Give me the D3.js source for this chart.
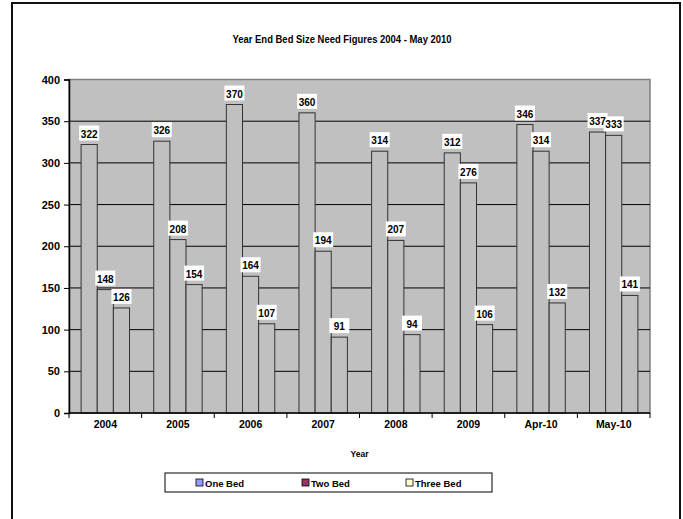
<!DOCTYPE html>
<html>
<head>
<meta charset="utf-8">
<script src="https://cdn.jsdelivr.net/npm/d3@7"></script>
<style>
  body { margin: 0; background: #fff; }
  svg { display: block; font-family: "Liberation Sans", Arial, sans-serif; }
</style>
</head>
<body>
<div id="chart"></div>
<script>
// Data
const categories = ["2004", "2005", "2006", "2007", "2008", "2009", "Apr-10", "May-10"];
const seriesNames = ["One Bed", "Two Bed", "Three Bed"];
const oneBed = [322, 326, 370, 360, 314, 312, 346, 337];
const twoBed = [148, 208, 164, 194, 207, 276, 314, 333];
const threeBed = [126, 154, 107, 91, 94, 106, 132, 141];
const yTicks = [0, 50, 100, 150, 200, 250, 300, 350, 400];
const legendColors = ["#9999ff", "#993366", "#ffffcc"];

const width = 683, height = 519;
const plot = { left: 69, right: 650, top: 79.5, bottom: 413 };

const svg = d3.select("#chart").append("svg")
  .attr("width", width)
  .attr("height", height);

// outer frame
svg.append("rect")
  .attr("x", 12).attr("y", 3)
  .attr("width", 668).attr("height", 540)
  .attr("fill", "#fff")
  .attr("stroke", "#111")
  .attr("stroke-width", 2);

// title (narrow bold look)
svg.append("text")
  .attr("transform", "translate(342,43) scale(0.86,1)")
  .attr("text-anchor", "middle")
  .style("font-size", "11px")
  .style("font-weight", "bold")
  .text("Year End Bed Size Need Figures 2004 - May 2010");

const x0 = d3.scaleBand()
  .domain(categories)
  .range([plot.left, plot.right]);

const bw = x0.bandwidth();
const barW = bw / 4.5;
const x1 = d3.scaleBand()
  .domain(seriesNames)
  .range([(bw - 3 * barW) / 2, (bw + 3 * barW) / 2]);

const y = d3.scaleLinear()
  .domain([0, 400])
  .range([plot.bottom, plot.top]);

// plot background
svg.append("rect")
  .attr("x", plot.left).attr("y", plot.top)
  .attr("width", plot.right - plot.left)
  .attr("height", plot.bottom - plot.top)
  .attr("fill", "#c0c0c0")
  .attr("stroke", "#808080")
  .attr("stroke-width", 1.5);

// gridlines
svg.append("g")
  .selectAll("line")
  .data(yTicks.filter(d => d > 0 && d < 400))
  .join("line")
  .attr("x1", plot.left).attr("x2", plot.right)
  .attr("y1", d => y(d)).attr("y2", d => y(d))
  .attr("stroke", "#000")
  .attr("stroke-width", 1);

const points = [];
categories.forEach((c, i) => {
  [oneBed[i], twoBed[i], threeBed[i]].forEach((v, j) => {
    points.push({ cat: c, name: seriesNames[j], v });
  });
});
const cx = d => x0(d.cat) + x1(d.name) + x1.bandwidth() / 2;

svg.append("g")
  .selectAll("rect")
  .data(points)
  .join("rect")
  .attr("x", d => x0(d.cat) + x1(d.name))
  .attr("y", d => y(d.v))
  .attr("width", x1.bandwidth())
  .attr("height", d => y(0) - y(d.v))
  .attr("fill", "#c0c0c0")
  .attr("stroke", "#333")
  .attr("stroke-width", 1);

// value labels: white boxes first, then text on top
svg.append("g")
  .selectAll("rect")
  .data(points)
  .join("rect")
  .attr("x", d => cx(d) - 10)
  .attr("y", d => y(d.v) - 19)
  .attr("width", 20).attr("height", 15)
  .attr("fill", "#fff");

svg.append("g")
  .selectAll("text")
  .data(points)
  .join("text")
  .attr("x", cx)
  .attr("y", d => y(d.v) - 7)
  .attr("text-anchor", "middle")
  .style("font-size", "10px")
  .style("font-weight", "bold")
  .text(d => d.v);

// y axis
const yAxis = svg.append("g")
  .attr("transform", `translate(${plot.left},0)`)
  .call(d3.axisLeft(y).tickValues(yTicks).tickSize(5).tickPadding(4));
yAxis.select(".domain").attr("stroke", "#000").attr("stroke-width", 1.5);
yAxis.selectAll(".tick line").attr("stroke", "#000");
yAxis.selectAll("text")
  .style("font-size", "11px")
  .style("font-weight", "bold")
  .attr("fill", "#000")
  .attr("font-family", "Liberation Sans, Arial, sans-serif");

// x axis
const xAxisG = svg.append("g")
  .attr("transform", `translate(0,${plot.bottom})`);
xAxisG.append("line")
  .attr("x1", plot.left).attr("x2", plot.right)
  .attr("stroke", "#000").attr("stroke-width", 1.5);
xAxisG.selectAll("line.tk")
  .data(categories.concat(["end"]))
  .join("line")
  .attr("class", "tk")
  .attr("x1", (d, i) => plot.left + i * bw)
  .attr("x2", (d, i) => plot.left + i * bw)
  .attr("y1", 0).attr("y2", 5)
  .attr("stroke", "#000");
xAxisG.selectAll("text")
  .data(categories)
  .join("text")
  .attr("x", d => x0(d) + bw / 2)
  .attr("y", 15)
  .attr("text-anchor", "middle")
  .style("font-size", "10.5px")
  .style("font-weight", "bold")
  .text(d => d);

svg.append("text")
  .attr("x", (plot.left + plot.right) / 2)
  .attr("y", 457)
  .attr("text-anchor", "middle")
  .style("font-size", "8.5px")
  .style("font-weight", "bold")
  .text("Year");

// legend
const legend = svg.append("g").attr("transform", "translate(165,473)");
legend.append("rect")
  .attr("width", 327).attr("height", 19)
  .attr("fill", "#fff")
  .attr("stroke", "#000")
  .attr("stroke-width", 1);

const legendX = [31, 137, 241];
const items = legend.selectAll("g.item")
  .data(seriesNames)
  .join("g")
  .attr("class", "item")
  .attr("transform", (d, i) => `translate(${legendX[i]},6)`);
items.append("rect")
  .attr("width", 7).attr("height", 7)
  .attr("fill", (d, i) => legendColors[i])
  .attr("stroke", "#000")
  .attr("stroke-width", 0.8);
items.append("text")
  .attr("x", 9).attr("y", 7.5)
  .style("font-size", "9.5px")
  .style("font-weight", "bold")
  .text(d => d);
</script>
</body>
</html>
